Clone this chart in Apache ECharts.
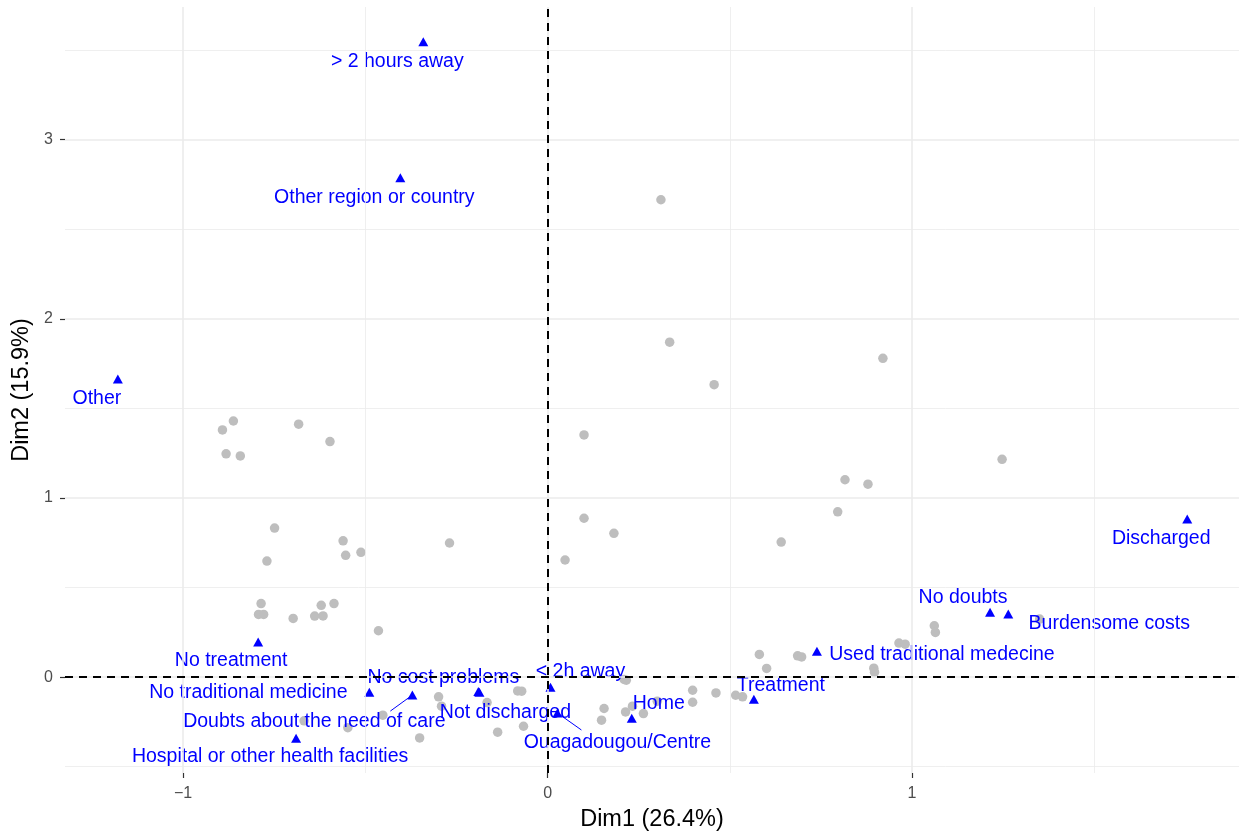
<!DOCTYPE html>
<html>
<head>
    <meta charset="UTF-8">
    <script src="https://cdn.jsdelivr.net/npm/echarts@6/dist/echarts.min.js"></script>
</head>
<body style="margin:0;background-color:#ffffff;">
    <div id="main" style="width:1239px;height:833px;"></div>
    <script type="text/javascript">
        // individuals (gray dots), Dim1 / Dim2
        var indX = [0.311, 0.335, 0.457, 0.920, 0.100, 1.247, 0.816, 0.879, 0.796, 0.100,
            0.182, 0.641, 0.048, 1.061, 1.064, 1.350, 0.964, 0.981, 0.895, 0.897,
            0.581, 0.601, 0.686, 0.697, 0.535, 0.516, 0.462, 0.398, 0.398, 0.301,
            0.263, 0.233, 0.214, 0.155, 0.148, 0.210, 0.216, -0.082, -0.071, -0.066,
            -0.137, -0.166, -0.299, -0.291, -0.351, -0.452, -0.548, -0.668,
            -0.862, -0.892, -0.683, -0.597, -0.882, -0.843, -0.749, -0.561, -0.554, -0.512,
            -0.269, -0.770, -0.786, -0.793, -0.779, -0.698, -0.621, -0.586, -0.639, -0.616, -0.464];
        var indY = [2.665, 1.870, 1.633, 1.780, 1.352, 1.216, 1.102, 1.077, 0.923, 0.887,
            0.803, 0.754, 0.654, 0.287, 0.250, 0.324, 0.190, 0.184, 0.050, 0.028,
            0.127, 0.049, 0.119, 0.113, -0.110, -0.101, -0.088, -0.073, -0.140, -0.134,
            -0.203, -0.162, -0.194, -0.175, -0.240, -0.013, -0.017, -0.077, -0.078, -0.274,
            -0.307, -0.142, -0.110, -0.162, -0.339, -0.212, -0.282, -0.244,
            1.430, 1.380, 1.412, 1.315, 1.247, 1.235, 0.832, 0.761, 0.680, 0.697,
            0.749, 0.648, 0.411, 0.350, 0.350, 0.328, 0.401, 0.411, 0.341, 0.342, 0.259];

        // variable categories (blue triangles)
        var catNames = ['> 2 hours away', 'Other region or country', 'Other', 'Discharged',
            'No doubts', 'Burdensome costs', 'Used traditional medecine', 'Treatment', 'Home',
            'Ouagadougou/Centre', '< 2h away', 'Not discharged', 'No cost problems',
            'Doubts about the need of care', 'No traditional medicine', 'No treatment',
            'Hospital or other health facilities'];
        var catX = [-0.341, -0.404, -1.179, 1.755, 1.214, 1.264, 0.739, 0.566, 0.231,
            0.027, 0.008, -0.187, -0.190, -0.371, -0.489, -0.794, -0.690];
        var catY = [3.547, 2.788, 1.665, 0.883, 0.363, 0.352, 0.145, -0.123, -0.229,
            -0.200, -0.056, -0.084, -0.080, -0.100, -0.084, 0.196, -0.341];

        var xTicks = [-1, 0, 1];
        var yTicks = [0, 1, 2, 3];
        var xGrid = [-1, -0.5, 0, 0.5, 1, 1.5];
        var yGrid = [-0.5, 0, 0.5, 1, 1.5, 2, 2.5, 3, 3.5];

        // text placement (px, from triangle to label centre), like ggrepel did it
        var labelShift = [[-26, 20], [-26, 20], [-21, 20], [-26, 20],
            [-27, -15], [101, 10], [125, 3], [27, -14], [27, -15],
            [60, 30], [30, -16], [26, 20], [-35, -14],
            [-98, 27], [-121, 0], [-27, 19], [-26, 18]];
        // short segments from a triangle towards its moved label (px)
        var guideShift = { 'Doubts about the need of care': [-22, 16], 'Ouagadougou/Centre': [24, 17] };

        var fontFam = '"Liberation Sans", Arial, Helvetica, sans-serif';

        function minusFmt(v) {
            return v < 0 ? '\u2212' + Math.abs(v) : String(v);
        }

        var indData = [];
        for (var i = 0; i < indX.length; i++) {
            indData.push([indX[i], indY[i]]);
        }
        var catData = [];
        var guideData = [];
        for (var j = 0; j < catNames.length; j++) {
            catData.push({ name: catNames[j], value: [catX[j], catY[j]] });
            if (guideShift[catNames[j]]) {
                guideData.push({ name: catNames[j], value: [catX[j], catY[j]] });
            }
        }

        var gridLines = [];
        xGrid.forEach(function (v) {
            gridLines.push({ xAxis: v, lineStyle: { width: v % 1 === 0 ? 1.6 : 0.8 } });
        });
        yGrid.forEach(function (v) {
            gridLines.push({ yAxis: v, lineStyle: { width: v % 1 === 0 ? 1.6 : 0.8 } });
        });

        var myChart = echarts.init(document.getElementById('main'));

        var option = {
            animation: false,
            backgroundColor: '#ffffff',
            grid: { left: 65, right: 0, top: 7, bottom: 60, outerBoundsMode: 'none', containLabel: false },
            xAxis: {
                type: 'value',
                min: -1.324,
                max: 1.897,
                name: 'Dim1 (26.4%)',
                nameLocation: 'middle',
                nameGap: 35,
                nameTextStyle: { color: '#000000', fontSize: 23.5, fontFamily: fontFam },
                axisLine: { show: false, onZero: false },
                axisTick: { show: true, customValues: xTicks, length: 5, lineStyle: { color: '#333333', width: 1.2 } },
                axisLabel: { customValues: xTicks, formatter: minusFmt, color: '#4d4d4d', fontSize: 16, fontFamily: fontFam, margin: 13 },
                splitLine: { show: false }
            },
            yAxis: {
                type: 'value',
                min: -0.535,
                max: 3.741,
                name: 'Dim2 (15.9%)',
                nameLocation: 'middle',
                nameGap: 31,
                nameTextStyle: { color: '#000000', fontSize: 23.5, fontFamily: fontFam },
                axisLine: { show: false, onZero: false },
                axisTick: { show: true, customValues: yTicks, length: 5, lineStyle: { color: '#333333', width: 1.2 } },
                axisLabel: { customValues: yTicks, color: '#4d4d4d', fontSize: 16, fontFamily: fontFam, margin: 12 },
                splitLine: { show: false }
            },
            series: [
                {
                    // background grid
                    type: 'scatter',
                    data: [],
                    silent: true,
                    z: 0,
                    markLine: {
                        silent: true,
                        symbol: 'none',
                        label: { show: false },
                        lineStyle: { color: '#ebebeb', type: 'solid' },
                        data: gridLines
                    }
                },
                {
                    type: 'scatter',
                    data: indData,
                    symbol: 'circle',
                    symbolSize: 9.5,
                    itemStyle: { color: '#bebebe', opacity: 1 },
                    z: 2
                },
                {
                    // leader lines
                    type: 'custom',
                    data: guideData,
                    silent: true,
                    z: 3,
                    renderItem: function (params, api) {
                        var p = api.coord([api.value(0), api.value(1)]);
                        var g = guideShift[guideData[params.dataIndex].name];
                        return {
                            type: 'line',
                            shape: { x1: p[0], y1: p[1], x2: p[0] + g[0], y2: p[1] + g[1] },
                            style: { stroke: '#0000ff', lineWidth: 1 }
                        };
                    }
                },
                {
                    type: 'scatter',
                    data: catData,
                    symbol: 'triangle',
                    symbolSize: [10, 9],
                    itemStyle: { color: '#0000ff', opacity: 1 },
                    z: 3,
                    label: {
                        show: true,
                        position: 'inside',
                        formatter: '{b}',
                        color: '#0000ff',
                        fontSize: 19.5,
                        fontFamily: fontFam
                    },
                    labelLayout: function (p) {
                        var s = labelShift[p.dataIndex];
                        return { dx: s[0], dy: s[1] };
                    }
                },
                {
                    // dashed zero lines
                    type: 'scatter',
                    data: [],
                    silent: true,
                    z: 4,
                    markLine: {
                        silent: true,
                        symbol: 'none',
                        label: { show: false },
                        lineStyle: { color: '#000000', type: [8, 6], width: 2 },
                        data: [{ xAxis: 0 }, { yAxis: 0 }]
                    }
                }
            ]
        };

        myChart.setOption(option);
    </script>
</body>
</html>
